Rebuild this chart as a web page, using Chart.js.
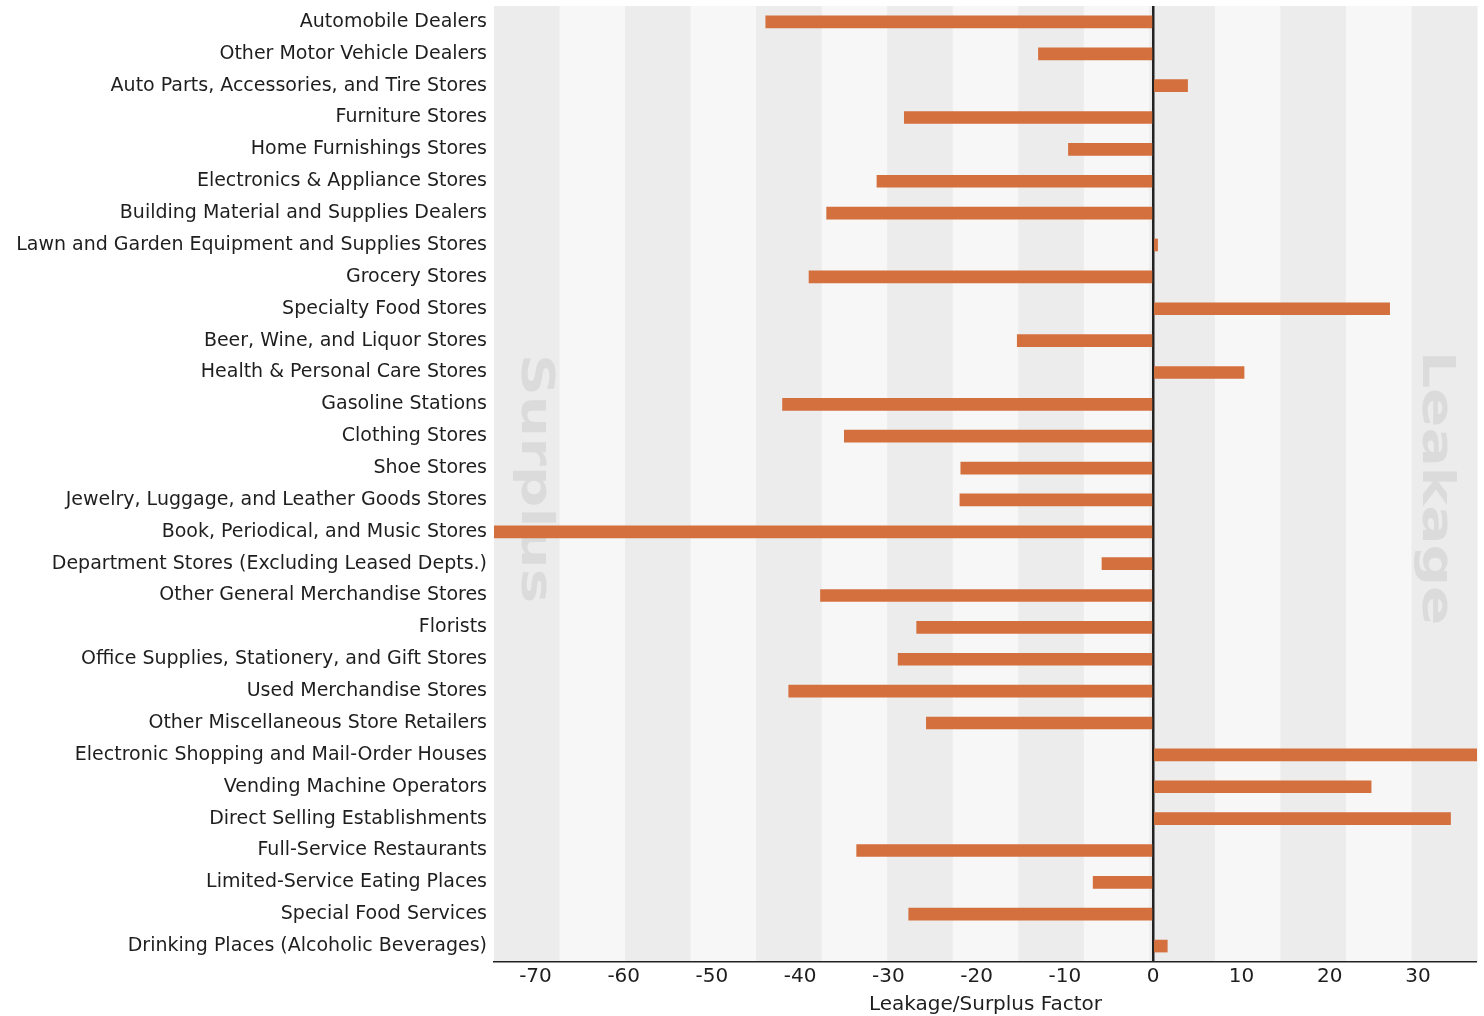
<!DOCTYPE html>
<html>
<head>
<meta charset="utf-8">
<title>Leakage/Surplus Factor</title>
<script src="https://cdn.jsdelivr.net/npm/chart.js@4.4.1/dist/chart.umd.min.js"></script>
<style>
    body { margin: 0; background: #fff; }
    #wrap { width: 1484px; height: 1016px; }
</style>
</head>
<body>
<div id="wrap"><canvas id="myChart"></canvas></div>
<script>
// #region data
const categories = [
    'Automobile Dealers',
    'Other Motor Vehicle Dealers',
    'Auto Parts, Accessories, and Tire Stores',
    'Furniture Stores',
    'Home Furnishings Stores',
    'Electronics & Appliance Stores',
    'Building Material and Supplies Dealers',
    'Lawn and Garden Equipment and Supplies Stores',
    'Grocery Stores',
    'Specialty Food Stores',
    'Beer, Wine, and Liquor Stores',
    'Health & Personal Care Stores',
    'Gasoline Stations',
    'Clothing Stores',
    'Shoe Stores',
    'Jewelry, Luggage, and Leather Goods Stores',
    'Book, Periodical, and Music Stores',
    'Department Stores (Excluding Leased Depts.)',
    'Other General Merchandise Stores',
    'Florists',
    'Office Supplies, Stationery, and Gift Stores',
    'Used Merchandise Stores',
    'Other Miscellaneous Store Retailers',
    'Electronic Shopping and Mail-Order Houses',
    'Vending Machine Operators',
    'Direct Selling Establishments',
    'Full-Service Restaurants',
    'Limited-Service Eating Places',
    'Special Food Services',
    'Drinking Places (Alcoholic Beverages)'
];

const factors = [
    -43.9, -13.0, 3.9, -28.2, -9.6, -31.3, -37.0, 0.5, -39.0, 26.8,
    -15.4, 10.3, -42.0, -35.0, -21.8, -21.9, -75.0, -5.8, -37.7, -26.8,
    -28.9, -41.3, -25.7, 37.0, 24.7, 33.7, -33.6, -6.8, -27.7, 1.6
];

const xTicks = [-70, -60, -50, -40, -30, -20, -10, 0, 10, 20, 30];
const xMin = -74.7;
const xMax = 36.7;
// #endregion data

const
    graph = document.querySelector('#myChart'),
    fontFamily = '"DejaVu Sans", Verdana, sans-serif',
    textColor = '#1e1e1e',
    barColor = '#d4703e';

// alternating background bands, 15 of them across the plot
const bands = {
    id: 'bands',
    beforeDraw(chart) {
        const { ctx, chartArea: a } = chart;
        const n = 15;
        const w = (a.right - a.left) / n;
        ctx.save();
        for (let i = 0; i < n; i++) {
            ctx.fillStyle = (i % 2 === 0) ? '#ececec' : '#f7f7f7';
            ctx.fillRect(a.left + i * w, a.top, w + 0.5, a.bottom - a.top);
        }
        ctx.restore();
    }
};

// big faded "Surplus" / "Leakage" words
const watermark = {
    id: 'watermark',
    beforeDatasetsDraw(chart) {
        const { ctx, chartArea: a } = chart;
        ctx.save();
        ctx.font = 'bold 44px ' + fontFamily;
        ctx.fillStyle = 'rgba(200,200,200,0.45)';
        ctx.textBaseline = 'alphabetic';
        ctx.textAlign = 'left';

        function word(text, x, y) {
            ctx.save();
            ctx.translate(x, y);
            ctx.rotate(Math.PI / 2);
            ctx.scale(1.32, 1);
            ctx.fillText(text, 0, 0);
            ctx.restore();
        }
        word('Surplus', a.left + 28, a.top + 348);
        word('Leakage', a.right - 54, a.top + 345);
        ctx.restore();
    }
};

function graphrender() {
    const ctx = graph.getContext('2d');

    new Chart(ctx, {
        type: 'bar',
        data: {
            labels: categories,
            datasets: [{
                label: 'Leakage/Surplus Factor',
                data: factors,
                backgroundColor: barColor,
                borderWidth: 0,
                barThickness: 12
            }]
        },
        options: {
            indexAxis: 'y',
            responsive: true,
            maintainAspectRatio: false,
            animation: false,
            layout: { padding: { top: 6, right: 7, left: 0, bottom: 0 } },
            plugins: {
                legend: { display: false },
                tooltip: { enabled: false }
            },
            scales: {
                x: {
                    min: xMin,
                    max: xMax,
                    ticks: {
                        padding: 3,
                        color: textColor,
                        maxRotation: 0,
                        font: { family: fontFamily, size: 20 }
                    },
                    afterBuildTicks(axis) {
                        axis.ticks = xTicks.map(v => ({ value: v }));
                    },
                    grid: {
                        drawTicks: false,
                        color: c => (c.tick && c.tick.value === 0) ? '#222' : 'rgba(0,0,0,0)',
                        lineWidth: c => (c.tick && c.tick.value === 0) ? 2.5 : 0
                    },
                    border: { display: true, color: '#222', width: 1.5 },
                    title: {
                        display: true,
                        text: 'Leakage/Surplus Factor',
                        color: textColor,
                        padding: { top: 0, bottom: 1 },
                        font: { family: fontFamily, size: 20, lineHeight: 1 }
                    },
                    afterFit(scale) {
                        scale.height = 54;
                        scale.paddingLeft = 0;
                        scale.paddingRight = 0;
                    }
                },
                y: {
                    ticks: {
                        padding: 7,
                        color: textColor,
                        autoSkip: false,
                        font: { family: fontFamily, size: 19 }
                    },
                    grid: { display: false, drawTicks: false },
                    border: { display: false },
                    afterFit(scale) {
                        scale.width = 494;
                        scale.paddingTop = 0;
                        scale.paddingBottom = 0;
                    }
                }
            }
        },
        plugins: [bands, watermark]
    });
}

graphrender();
</script>
</body>
</html>
